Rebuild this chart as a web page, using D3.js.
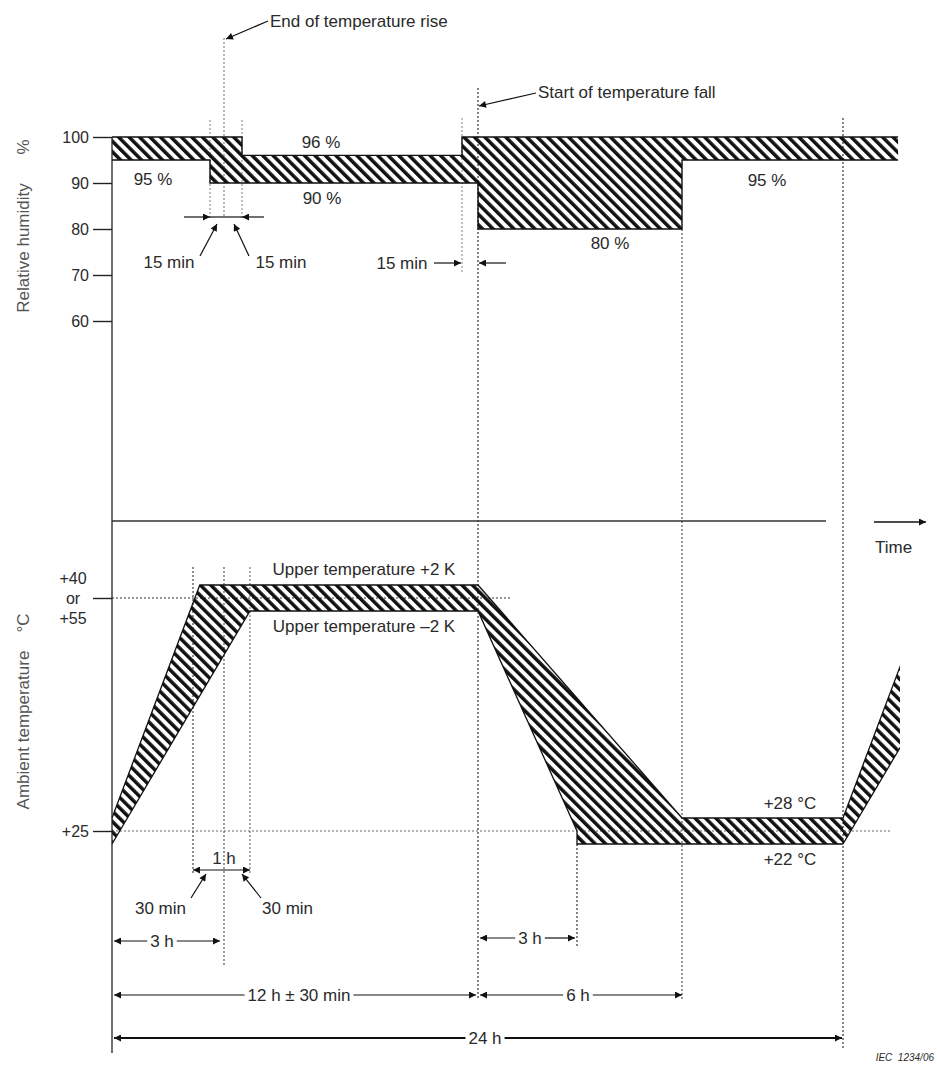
<!DOCTYPE html>
<html>
<head>
<meta charset="utf-8">
<script src="https://cdn.jsdelivr.net/npm/d3@7"></script>
<style>
  body { margin: 0; background: #fff; }
  text { font-family: "Liberation Sans", Arial, sans-serif; fill: #2a2a2a; font-size: 17px; }
</style>
</head>
<body>
<div id="main"></div>
<script>
let width = 937;
let height = 1068;

// time knots (h) of the schematic time axis - the figure is not drawn to scale
const timeKnots = [0, 2.5, 2.75, 3, 3.25, 3.5, 11.75, 12, 15, 18, 24, 26.5];

// relative humidity (%) : [time h, value]
const rhTicks = [60, 70, 80, 90, 100];
const rhUpper = [[0, 100], [3.25, 100], [3.25, 96], [11.75, 96], [11.75, 100], [25.7, 100]];
const rhLower = [[0, 95], [2.75, 95], [2.75, 90], [12, 90], [12, 80], [18, 80], [18, 95], [25.7, 95]];

// ambient temperature (degC, upper temperature drawn as 55) : [time h, value]
const tempTicks = [25, 55];
const tempUpper = [[0, 28], [2.6, 57], [12, 57], [18, 28], [24, 28]];
const tempLower = [[0, 22], [3.5, 53], [12, 53], [15, 25], [15, 22], [24, 22]];

let svg = d3.select('#main')
  .append('svg')
  .attr('width', width)
  .attr('height', height);

let x = d3.scaleLinear()
  .domain(timeKnots)
  .range([112, 193, 210, 224, 242, 250, 462, 478, 577, 682, 843, 924]);

let yRH = d3.scaleLinear()
  .domain([60, 100])
  .range([321, 137]);

// broken temperature axis: the +-2 K and +-3 K bands are exaggerated
let yT = d3.scaleLinear()
  .domain([22, 28, 53, 57])
  .range([844, 818, 611, 585]);

let defs = svg.append('defs');

defs.append('pattern')
  .attr('id', 'hatch')
  .attr('patternUnits', 'userSpaceOnUse')
  .attr('width', 7.4)
  .attr('height', 7.4)
  .attr('patternTransform', 'rotate(-45)')
  .append('rect')
  .attr('width', 3.5)
  .attr('height', 7.4)
  .attr('fill', '#111');

defs.append('marker')
  .attr('id', 'arr')
  .attr('viewBox', '0 0 10 10')
  .attr('refX', 10)
  .attr('refY', 5)
  .attr('markerWidth', 9)
  .attr('markerHeight', 7)
  .attr('markerUnits', 'userSpaceOnUse')
  .attr('orient', 'auto-start-reverse')
  .append('path')
  .attr('d', 'M0,0L10,5L0,10Z')
  .attr('fill', '#111');

defs.append('clipPath')
  .attr('id', 'clipRight')
  .append('rect')
  .attr('x', x(24))
  .attr('y', 0)
  .attr('width', 900 - x(24))
  .attr('height', height);

// ---------- guide lines (dotted) ----------
let guides = svg.append('g').attr('class', 'guides')
  .attr('fill', 'none')
  .attr('stroke-dasharray', '2,2')
  .attr('stroke-width', 1.2);

let vGuides = [
  { t: 2.75, y1: 120, y2: 218, c: '#999' },
  { t: 3, y1: 38, y2: 218, c: '#888' },
  { t: 3.25, y1: 120, y2: 218, c: '#999' },
  { t: 11.75, y1: 118, y2: 272, c: '#999' },
  { t: 12, y1: 88, y2: 1000, c: '#333' },
  { t: 18, y1: yRH(80), y2: 1000, c: '#555' },
  { t: 24, y1: 118, y2: 1050, c: '#333' },
  { t: 2.5, y1: 567, y2: 875, c: '#444' },
  { t: 3, y1: 567, y2: 967, c: '#555' },
  { t: 3.5, y1: 567, y2: 875, c: '#777' },
  { t: 15, y1: yT(22), y2: 947, c: '#333' }
];

guides.selectAll('line.v')
  .data(vGuides)
  .enter().append('line')
  .attr('class', 'v')
  .attr('x1', function(d) { return x(d.t); })
  .attr('x2', function(d) { return x(d.t); })
  .attr('y1', function(d) { return d.y1; })
  .attr('y2', function(d) { return d.y2; })
  .attr('stroke', function(d) { return d.c; });

guides.append('line')
  .attr('x1', x(0)).attr('x2', 510)
  .attr('y1', yT(55)).attr('y2', yT(55))
  .attr('stroke', '#333');

guides.append('line')
  .attr('x1', x(0)).attr('x2', 892)
  .attr('y1', yT(25)).attr('y2', yT(25))
  .attr('stroke', '#666');

// ---------- humidity band ----------
let lineRH = d3.line()
  .x(function(d) { return x(d[0]); })
  .y(function(d) { return yRH(d[1]); });

svg.append('path')
  .attr('d', lineRH(rhUpper.concat(rhLower.slice().reverse())) + 'Z')
  .attr('fill', 'url(#hatch)');

[rhUpper, rhLower].forEach(function(edge) {
  svg.append('path')
    .attr('d', lineRH(edge))
    .attr('fill', 'none')
    .attr('stroke', '#111')
    .attr('stroke-width', 1.4);
});

// ---------- temperature band ----------
let lineT = d3.line()
  .x(function(d) { return x(d[0]); })
  .y(function(d) { return yT(d[1]); });

let tempPoly = lineT(tempUpper.concat(tempLower.slice().reverse())) + 'Z';

let tempG = svg.append('g');
tempG.append('path')
  .attr('d', tempPoly)
  .attr('fill', 'url(#hatch)');

[tempUpper, tempLower].forEach(function(edge) {
  tempG.append('path')
    .attr('d', lineT(edge))
    .attr('fill', 'none')
    .attr('stroke', '#111')
    .attr('stroke-width', 1.3);
});

// next cycle starts again at 24 h
let nextCycle = svg.append('g')
  .attr('clip-path', 'url(#clipRight)')
  .append('g')
  .attr('transform', 'translate(' + (x(24) - x(0)) + ',0)');

nextCycle.append('path')
  .attr('d', tempPoly)
  .attr('fill', 'url(#hatch)');

[tempUpper, tempLower].forEach(function(edge) {
  nextCycle.append('path')
    .attr('d', lineT(edge))
    .attr('fill', 'none')
    .attr('stroke', '#111')
    .attr('stroke-width', 1.3);
});

// ---------- axes ----------
svg.append('line')
  .attr('x1', x(0)).attr('x2', x(0))
  .attr('y1', yRH(100)).attr('y2', 1053)
  .attr('stroke', '#222')
  .attr('stroke-width', 1.3);

// separator between the two graphs
svg.append('line')
  .attr('x1', x(0)).attr('x2', 826)
  .attr('y1', 521).attr('y2', 521)
  .attr('stroke', '#333')
  .attr('stroke-width', 1.3);

let axisRH = svg.append('g')
  .attr('transform', 'translate(' + x(0) + ',0)')
  .call(d3.axisLeft(yRH).tickValues(rhTicks).tickSize(19).tickPadding(4));
axisRH.select('.domain').remove();
axisRH.selectAll('.tick line').attr('stroke', '#222').attr('stroke-width', 1.4);
axisRH.selectAll('.tick text')
  .style('font-family', '"Liberation Sans", Arial, sans-serif')
  .style('font-size', '16px')
  .attr('fill', '#2a2a2a');

let axisT = svg.append('g')
  .attr('transform', 'translate(' + x(0) + ',0)')
  .call(d3.axisLeft(yT).tickValues(tempTicks).tickSize(19).tickPadding(4)
    .tickFormat(function(d) { return d === 25 ? '+25' : ''; }));
axisT.select('.domain').remove();
axisT.selectAll('.tick line').attr('stroke', '#222').attr('stroke-width', 1.4);
axisT.selectAll('.tick text')
  .style('font-family', '"Liberation Sans", Arial, sans-serif')
  .style('font-size', '16px')
  .attr('fill', '#2a2a2a');

// upper temperature label: +40 or +55
['+40', 'or', '+55'].forEach(function(s, i) {
  svg.append('text')
    .attr('x', 73)
    .attr('y', yT(55) + (i - 1) * 20)
    .attr('dy', '0.35em')
    .attr('text-anchor', 'middle')
    .style('font-size', '16px')
    .text(s);
});

// axis titles
function vLabel(txt, cx, cy) {
  svg.append('text')
    .attr('transform', 'translate(' + cx + ',' + cy + ') rotate(-90)')
    .attr('text-anchor', 'middle')
    .attr('dy', '0.35em')
    .style('fill', '#555')
    .text(txt);
}
vLabel('Relative humidity', 23, 248);
vLabel('%', 23, 147);
vLabel('Ambient temperature', 23, 730);
vLabel('°C', 23, 623);

// ---------- annotations ----------
function label(txt, cx, cy, anchor) {
  return svg.append('text')
    .attr('x', cx)
    .attr('y', cy)
    .attr('dy', '0.35em')
    .attr('text-anchor', anchor || 'middle')
    .text(txt);
}

function arrow(x1, y1, x2, y2, sw) {
  return svg.append('line')
    .attr('x1', x1).attr('y1', y1)
    .attr('x2', x2).attr('y2', y2)
    .attr('stroke', '#111')
    .attr('stroke-width', sw || 1.2)
    .attr('marker-end', 'url(#arr)');
}

// humidity values
label('95 %', 153, 179);
label('96 %', 321, 142);
label('90 %', 322, 198);
label('80 %', 610, 243);
label('95 %', 767, 180);

// 15 min marks around the end of the temperature rise
svg.append('line')
  .attr('x1', x(2.75)).attr('x2', x(3.25))
  .attr('y1', 217).attr('y2', 217)
  .attr('stroke', '#111').attr('stroke-width', 1.2);
arrow(184, 217, x(2.75), 217);
arrow(264, 217, x(3.25), 217);
arrow(200, 256, 217, 224);
arrow(249, 256, 234, 224);
label('15 min', 169, 262);
label('15 min', 281, 262);

label('15 min', 402, 263);
arrow(434, 263, x(11.75) - 1, 263);
arrow(506, 263, x(12) + 1, 263);

label('End of temperature rise', 270, 21, 'start');
arrow(268, 21, x(3) + 2, 39);

label('Start of temperature fall', 538, 92, 'start');
arrow(536, 93, x(12) + 1, 106);

// time arrow
arrow(874, 522, 926, 522, 1.6);
label('Time', 875, 547, 'start');

// temperature band labels
label('Upper temperature +2 K', 364, 569);
label('Upper temperature \u20132 K', 364, 626);
label('+28 °C', 790, 803);
label('+22 °C', 790, 859);

// 1 h window
label('1 h', x(3), 858);
svg.append('line')
  .attr('x1', x(2.5)).attr('x2', x(3.5))
  .attr('y1', 870).attr('y2', 870)
  .attr('stroke', '#111').attr('stroke-width', 1.2)
  .attr('marker-start', 'url(#arr)')
  .attr('marker-end', 'url(#arr)');
arrow(191, 898, 206, 874);
arrow(261, 898, 242, 874);
label('30 min', 186, 908, 'end');
label('30 min', 262, 908, 'start');

// dimension lines with the text in a gap
function dim(x1, x2, y, txt, cx, sw) {
  let t = label(txt, cx, y);
  let w = t.node().getComputedTextLength();
  let gapL = cx - w / 2 - 3;
  let gapR = cx + w / 2 + 3;
  svg.append('line')
    .attr('x1', gapL).attr('x2', x1)
    .attr('y1', y).attr('y2', y)
    .attr('stroke', '#111').attr('stroke-width', sw || 1.2)
    .attr('marker-end', 'url(#arr)');
  svg.append('line')
    .attr('x1', gapR).attr('x2', x2)
    .attr('y1', y).attr('y2', y)
    .attr('stroke', '#111').attr('stroke-width', sw || 1.2)
    .attr('marker-end', 'url(#arr)');
}

dim(x(0) + 2, x(3) - 4, 941, '3 h', 162);
dim(x(12) + 2, x(15) - 2, 938, '3 h', 530);
dim(x(0) + 2, x(12) - 2, 995, '12 h \u00b1 30 min', 299);
dim(x(12) + 2, x(18), 995, '6 h', 578);
dim(x(0) + 2, x(24) - 1, 1038, '24 h', 485, 1.8);

svg.append('text')
  .attr('x', 934)
  .attr('y', 1061)
  .attr('text-anchor', 'end')
  .style('font-size', '10px')
  .style('font-style', 'italic')
  .attr('xml:space', 'preserve')
  .text('IEC  1234/06');
</script>
</body>
</html>
